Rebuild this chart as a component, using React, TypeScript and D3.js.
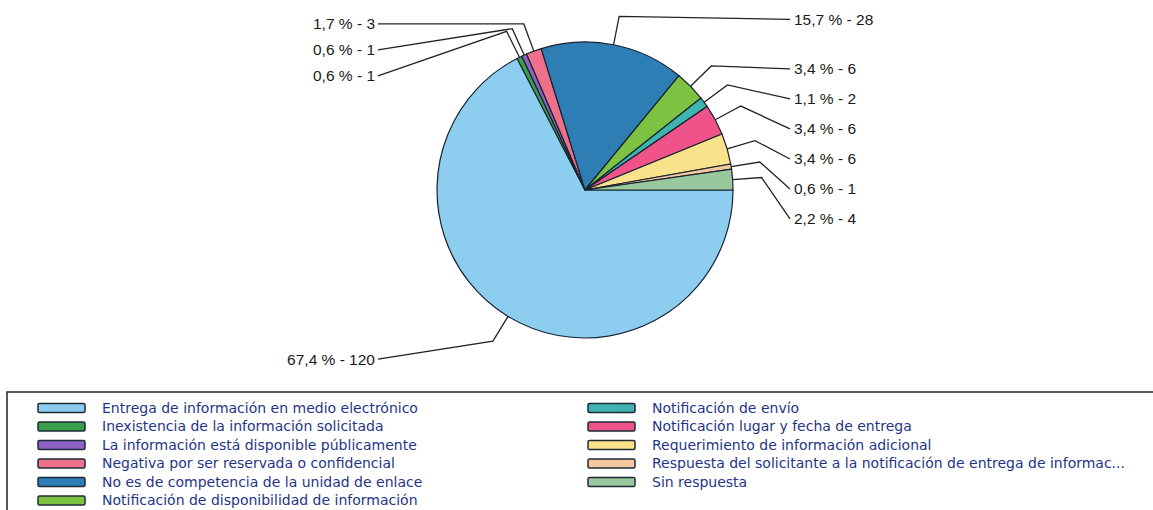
import React from "react";
import * as d3 from "d3";

// categorías y valores (número de solicitudes)
const categories = [
  "Entrega de información en medio electrónico",
  "Inexistencia de la información solicitada",
  "La información está disponible públicamente",
  "Negativa por ser reservada o confidencial",
  "No es de competencia de la unidad de enlace",
  "Notificación de disponibilidad de información",
  "Notificación de envío",
  "Notificación lugar y fecha de entrega",
  "Requerimiento de información adicional",
  "Respuesta del solicitante a la notificación de entrega de informac...",
  "Sin respuesta",
];
const values = [120, 1, 1, 3, 28, 6, 2, 6, 6, 1, 4];
const colors = [
  "#8ccdf0",
  "#3a9f4a",
  "#8c63c2",
  "#f06f8a",
  "#2e7db5",
  "#7dc242",
  "#3eb3b0",
  "#f0528a",
  "#fae28a",
  "#f4c7a0",
  "#98c89c",
];

const W = 1153,
  H = 510;
const cx = 585,
  cy = 190,
  r = 148;

type Slice = d3.PieArcDatum<number> & { i: number };

export default function App() {
  const total = d3.sum(values);
  const pie = d3
    .pie<number>()
    .sort(null)
    .value((d) => d)
    .startAngle(Math.PI / 2)
    .endAngle(Math.PI / 2 + 2 * Math.PI);
  const arcs = pie(values).map((a, i) => ({ ...a, i })) as Slice[];
  const arc = d3.arc<Slice>().innerRadius(0).outerRadius(r);
  const pct = d3.format(".1f");

  // posición de etiquetas
  const pt = (a: number, rad: number) => [Math.sin(a) * rad, -Math.cos(a) * rad];
  const labs = arcs.map((a) => {
    const mid = (a.startAngle + a.endAngle) / 2;
    const [ax, ay] = pt(mid, r);
    const [ex, ey] = pt(mid, r + 29);
    return {
      i: a.i,
      ax: cx + ax,
      ay: cy + ay,
      ex: cx + ex,
      ey: cy + ey,
      right: ex > 0,
      y: 0,
      text: pct((a.value / total) * 100).replace(".", ",") + " % - " + a.value,
    };
  });
  const right = labs.filter((l) => l.right).sort((a, b) => a.ey - b.ey);
  const left = labs.filter((l) => !l.right).sort((a, b) => a.ey - b.ey);
  let prev = -1e9;
  right.forEach((l) => {
    l.y = Math.max(l.ey + 3, prev + 30);
    prev = l.y;
  });
  prev = -1e9;
  left.forEach((l) => {
    // las de abajo bajan un poco más
    l.y = Math.max(l.ey + (l.ey > cy ? 18 : 0), prev + 26);
    prev = l.y;
  });

  const rows = 6;
  const legendX = [38, 588];
  const legendY = 408;
  const rowH = 18.5;

  return (
    <svg width={W} height={H} style={{ position: "absolute", left: 0, top: 0, background: "#fff" }}>
      <g transform={`translate(${cx},${cy})`}>
        {arcs.map((a) => (
          <path key={a.i} d={arc(a) || ""} fill={colors[a.i]} stroke="#16232e" strokeWidth={1.2} />
        ))}
      </g>
      <g fontFamily="'Liberation Sans', Arial, sans-serif" fontSize={15.5} fill="#1a1a1a">
        {labs.map((l) => {
          const lx = l.right ? 790 : 378;
          return (
            <g key={l.i}>
              <polyline
                points={`${l.ax},${l.ay} ${l.ex},${l.ey} ${lx},${l.y}`}
                fill="none"
                stroke="#222"
                strokeWidth={1.3}
              />
              <text
                x={l.right ? lx + 4 : lx - 3}
                y={l.y}
                dy="0.35em"
                textAnchor={l.right ? "start" : "end"}
              >
                {l.text}
              </text>
            </g>
          );
        })}
      </g>
      <rect x={7} y={392} width={1160} height={140} fill="none" stroke="#222" strokeWidth={1.5} />
      <g fontFamily="'DejaVu Sans', Verdana, sans-serif" fontSize={14} fill="#1f3585">
        {categories.map((c, i) => {
          const col = Math.floor(i / rows);
          const row = i % rows;
          const x = legendX[col];
          const y = legendY + row * rowH;
          return (
            <g key={c}>
              <rect x={x} y={y - 4.5} width={47} height={9} rx={1.5} fill={colors[i]} stroke="#1d2b36" strokeWidth={1.5} />
              <text x={x + 64} y={y} dy="0.35em">
                {c}
              </text>
            </g>
          );
        })}
      </g>
    </svg>
  );
}
